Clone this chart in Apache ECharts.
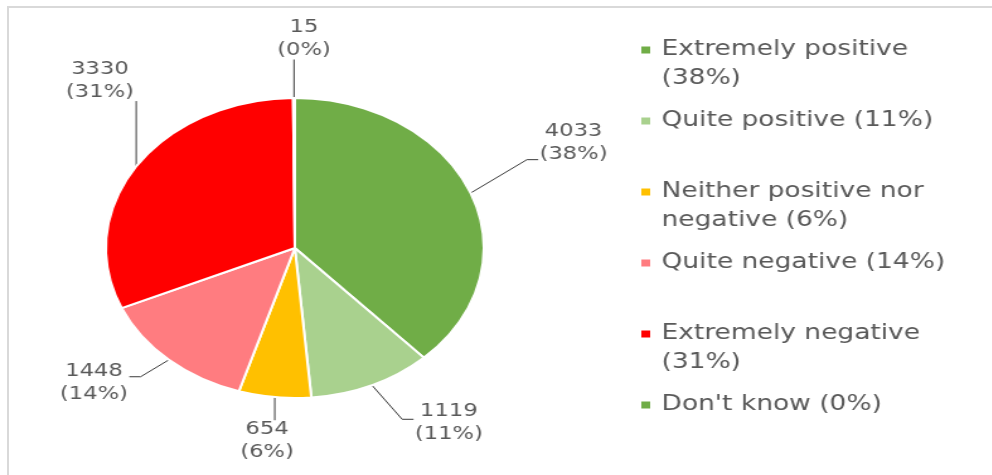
<!DOCTYPE html>
<html lang="en">
<head>
    <meta charset="utf-8">
    <title>Pie</title>
    <script src="https://cdn.jsdelivr.net/npm/echarts@6/dist/echarts.min.js"></script>
    <style>
        body { margin: 0; background: #fff; }
        #frame { position: absolute; left: 7px; top: 6px; width: 990px; height: 475px;
                 border-top: 2px solid #d9d9d9; border-left: 2px solid #d9d9d9; }
        /* the picture is stretched sideways, so the chart is drawn narrow and scaled */
        #main { position: absolute; left: 0; top: 0; width: 788px; height: 475px;
                transform: scaleX(1.26); transform-origin: 0 0; }
    </style>
</head>
<body>
<div id="frame"></div>
<div id="main"></div>
<script type="text/javascript">
    var categories = ['Extremely positive', 'Quite positive', 'Neither positive nor negative',
                      'Quite negative', 'Extremely negative', "Don't know"];
    var counts = [4033, 1119, 654, 1448, 3330, 15];
    var colors = ['#70AD47', '#A9D18E', '#FFC000', '#FF7C80', '#FF0000', '#70AD47'];
    // legend text as it wraps in the picture, percent is added after
    var legendText = ['Extremely positive\n', 'Quite positive ', 'Neither positive nor\nnegative ',
                      'Quite negative ', 'Extremely negative\n', "Don't know "];
    // label nudges: dx, dy, side the leader comes in from, leader height offset
    var labelShift = [[20, -43, 'right', 17], [10, 20, 'right', -4], [39, 23, 'down', 0],
                      [-7, 8, 'left', -6], [26, -75, 'up', 0], [51, -39, 'up', 0]];

    var font = 'DejaVu Sans';
    var total = 0;
    for (var i = 0; i < counts.length; i++) total += counts[i];

    var myChart = echarts.init(document.getElementById('main'));

    var legends = [];
    for (var i = 0; i < categories.length; i++) {
        var twoLines = legendText[i].indexOf('\n') >= 0;
        var pct = Math.round(counts[i] / total * 100);
        // an empty line on top keeps the marker level with the first line
        var txt = (twoLines ? ' \n' : '') + legendText[i] + '(' + pct + '%)';
        legends.push({
            orient: 'vertical',
            left: 507,
            top: 50 + 71 * i - (twoLines ? 43.5 : 14.5),
            padding: 0,
            icon: 'rect',
            itemWidth: 9,
            itemHeight: 9,
            selectedMode: false,
            data: [categories[i]],
            formatter: (function (t) { return function () { return t; }; })(txt),
            textStyle: {
                fontFamily: font,
                fontSize: 21,
                lineHeight: 29,
                color: '#595959',
                padding: [0, 0, 0, 3]
            }
        });
    }

    var data = [];
    for (var i = 0; i < categories.length; i++) {
        data.push({value: counts[i], name: categories[i], itemStyle: {color: colors[i]}});
    }

    var option = {
        animation: false,
        legend: legends,
        series: [
            {
                type: 'pie',
                center: [234, 248],
                radius: 150,
                startAngle: 90,
                clockwise: true,
                percentPrecision: 0,
                itemStyle: {borderColor: '#fff', borderWidth: 2},
                label: {
                    show: true,
                    position: 'outside',
                    formatter: '{v|{c}}\n{v|({d}%)}',
                    rich: {
                        v: {width: 56, align: 'center', fontFamily: font, fontSize: 18,
                            lineHeight: 23, color: '#595959'}
                    }
                },
                labelLine: {
                    show: true,
                    length: 20,
                    length2: 10,
                    lineStyle: {color: '#3a3a3a', width: 1}
                },
                labelLayout: function (p) {
                    var s = labelShift[p.dataIndex];
                    var r = p.labelRect;
                    var nx = r.x + s[0], ny = r.y + s[1];
                    var e = p.labelLinePoints[0];
                    var pts;
                    if (s[2] === 'up') {
                        pts = [e, [e[0], ny + r.height], [e[0], ny + r.height]];
                    } else if (s[2] === 'down') {
                        pts = [e, [e[0], ny], [e[0], ny]];
                    } else {
                        var y = ny + r.height / 2 + s[3];
                        var x = s[2] === 'right' ? nx : nx + r.width;
                        var bx = s[2] === 'right' ? x - 9 : x + 9;
                        pts = [e, [bx, y], [x, y]];
                    }
                    return {dx: s[0], dy: s[1], labelLinePoints: pts};
                },
                data: data
            }
        ]
    };
    myChart.setOption(option);
</script>
</body>
</html>
